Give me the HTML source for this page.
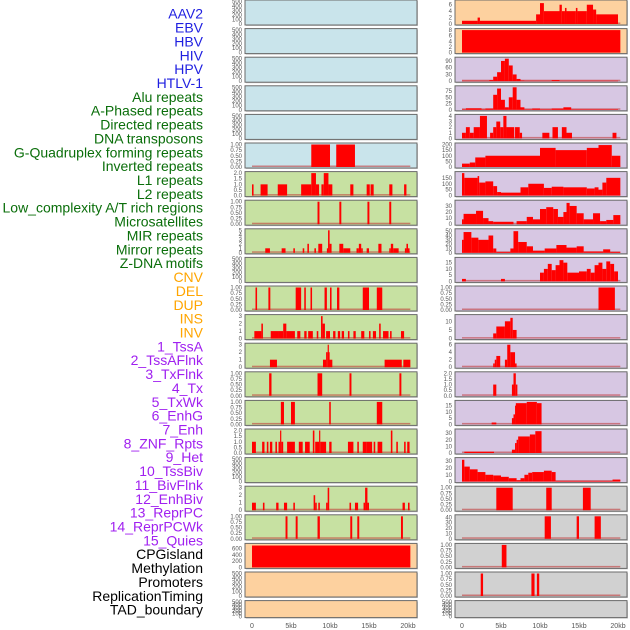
<!DOCTYPE html>
<html><head><meta charset="utf-8">
<style>
html,body{margin:0;padding:0;background:#fff;}
svg{display:block;font-family:"Liberation Sans",sans-serif;}
</style></head>
<body>
<svg id="chart" width="630" height="630" viewBox="0 0 630 630" xmlns="http://www.w3.org/2000/svg"></svg>
<script>
// ---- data ----
const labels = ["AAV2","EBV","HBV","HIV","HPV","HTLV-1","Alu repeats","A-Phased repeats","Directed repeats","DNA transposons","G-Quadruplex forming repeats","Inverted repeats","L1 repeats","L2 repeats","Low_complexity A/T rich regions","Microsatellites","MIR repeats","Mirror repeats","Z-DNA motifs","CNV","DEL","DUP","INS","INV","1_TssA","2_TssAFlnk","3_TxFlnk","4_Tx","5_TxWk","6_EnhG","7_Enh","8_ZNF_Rpts","9_Het","10_TssBiv","11_BivFlnk","12_EnhBiv","13_ReprPC","14_ReprPCWk","15_Quies","CPGisland","Methylation","Promoters","ReplicationTiming","TAD_boundary"];
const labelGroups = [6,13,5,15,5];
const groupColors = ["#1f1fe0","#0a6e0a","#ffa500","#a020f0","#000000"];
const xTickValues = [0,5,10,15,20];
const xTickLabels = ["0","5kb","10kb","15kb","20kb"];

const T500=["0","100","200","300","400","500"], T1=["0.00","0.25","0.50","0.75","1.00"];
const leftTicks = [T500,T500,T500,T500,T500,T1,["0.0","0.5","1.0","1.5","2.0"],T1,["0","1","2","3","4","5"],T500,T1,["0","1","2","3"],["0","1","2","3"],T1,T1,["0.0","0.5","1.0","1.5","2.0"],T500,["0","1","2","3"],T1,["0","200","400","600"],T500,T500];
const rightTicks = [["0","2","4","6"],["0","2","4","6","8"],["0","30","60","90"],["0","25","50","75"],["0","1","2","3","4"],["0","50","100","150","200"],["0","50","100","150"],["0","10","20","30"],["0","10","20","30","40","50"],["0","5","10","15"],T1,["0","5","10"],["0","2","4","6"],["0.0","0.5","1.0","1.5","2.0"],["0","5","10","15"],["0","10","20","30"],["0","10","20","30"],T1,["0","10","20","30","40"],T1,T1,T500];
const leftMax = [500,500,500,500,500,1,2,1,5,500,1,3,3,1,1,2,500,3,1,720,500,500];
const rightMax = [7,8,100,90,4,200,190,37,52,18,1,13,6,2,18,34,33,1,42,1,1,500];

const leftSegs = [
 [],[],[],[],[],
 [[7.6,10,1],[10.8,13.2,1]],
 [[0,0.2,1],[1.1,2,1],[3.3,4.5,1],[6.3,7.6,1],[7.6,8.2,2],[8.2,8.6,1],[8.9,9.2,1],[9.2,9.8,2],[9.8,10.3,1],[12.6,13,1],[14.7,15.1,1],[15.2,15.6,1],[17.6,18,1],[19.5,19.8,1]],
 [[8.4,8.65,1],[11.2,11.45,1],[14.8,15.05,1],[17.6,17.85,1]],
 [[1.7,2.3,1],[3.8,4.3,1],[5.3,5.5,1],[6.5,6.7,1],[7.1,7.3,2],[8,8.2,1],[8.5,9,2],[9.6,9.75,1],[9.75,9.95,5],[9.95,10.2,2],[11.2,11.7,2],[11.7,12.6,1],[13.4,13.7,1],[13.7,14,2],[14,14.2,1],[14.7,15,1],[16.2,16.6,2],[17.6,17.8,1],[17.8,18.1,2],[18.1,18.8,1],[19.6,19.8,1],[19.8,20,2],[20,20.2,1]],
 [],
 [[0.45,0.65,1],[2.1,2.35,1],[5.6,6.3,1],[6.7,6.9,1],[7.5,7.7,1],[9.3,9.6,1],[10,10.2,1],[10.9,11.2,1],[14.2,15,1],[16,16.7,1]],
 [[0.3,1.2,1],[1.2,1.4,2],[2.4,3.4,1],[3.4,4,1],[4,4.4,2],[4.4,5.5,1],[5.8,6.2,1],[6.7,7,1],[7.2,7.8,1],[8.3,8.5,1],[8.85,9.05,3],[9.05,9.35,2],[9.5,10,1],[10.4,10.7,1],[11,11.3,1],[11.5,11.8,1],[12.3,12.5,1],[13,13.3,1],[14,14.4,1],[15,15.2,1],[15.5,15.9,1],[16.3,16.5,2],[16.8,17.5,1],[17.7,17.9,1],[19.1,19.5,1]],
 [[2.3,3.2,1],[9.1,9.5,1],[9.5,9.7,2],[9.7,9.8,3],[9.8,9.9,2],[9.9,10.3,1],[17,19.2,1],[19.4,20.3,1]],
 [[2.2,2.5,1],[8.4,9,1],[12.5,12.75,1],[18.9,19.15,1]],
 [[3.7,4.1,1],[5,5.5,1],[9.9,10.1,1],[16,16.7,1]],
 [[0,0.5,1],[1.3,1.6,1],[1.9,2.1,1],[2.3,2.6,1],[3,3.2,1],[3.4,3.6,1],[3.6,3.75,2],[3.75,4,1],[4.5,5.5,1],[6,6.5,1],[6.8,7.4,1],[7.8,8,2],[8.1,8.6,1],[8.6,8.75,2],[8.75,9.5,1],[9.9,10.2,1],[12.3,13,1],[13.5,13.7,1],[14.2,14.7,1],[14.7,15.4,1],[15.6,15.8,1],[16.1,16.7,1],[17.8,18,2],[18.5,18.7,1],[19.5,19.7,1],[19.9,20.2,1]],
 [],
 [[0,0.5,1],[1.4,1.6,1],[3.1,3.4,1],[4.1,4.5,1],[5.3,5.5,1],[7.9,8.1,2],[8.1,8.3,1],[8.5,8.7,1],[9.5,9.7,1],[9.7,9.9,3],[12.5,12.7,1],[13.2,13.6,1],[14.3,14.5,1],[14.5,14.8,3],[14.8,15,1],[19.3,19.6,1],[20,20.2,1]],
 [[4.3,4.55,1],[5.6,5.85,1],[8.4,8.7,1],[12.6,12.85,1],[13.5,13.75,1],[19.1,19.35,1]],
 [[0,20.3,700]],
 [],[]
];
const rightSegs = [
 [[0,2,1],[2,2.3,2],[2.3,9.5,1],[9.5,10,3],[10,10.5,6.5],[10.5,12.5,4],[12.5,12.8,6],[12.8,13.2,4],[13.2,13.4,5],[13.4,14.6,4],[14.6,14.8,5],[14.8,16,4],[16,16.8,6],[16.8,17.2,4.5],[17.2,20,3]],
 [[0,20.3,8]],
 [[0,3.5,2],[3.5,4,5],[4,4.5,20],[4.5,5,40],[5,5.5,90],[5.5,6,100],[6,6.5,70],[6.5,7,30],[7,7.5,10],[7.5,8,3],[8,11.5,2],[11.5,12.5,5],[12.5,20,2]],
 [[0,0.5,2],[0.5,2.5,6],[2.5,3,2],[3,4,5],[4,4.5,60],[4.5,5,85],[5,5.5,40],[5.5,6,10],[6,6.5,50],[6.5,7,90],[7,7.5,40],[7.5,8,10],[8,9,2],[9,10,5],[10,11.5,2],[11.5,13,5],[13,14,10],[14,20,2]],
 [[0,0.5,1],[0.5,1,2],[1,1.5,1],[1.5,2.3,2],[2.3,3.2,4],[3.6,4,1],[4,4.4,2],[4.4,4.9,3],[4.9,5.3,2],[5.3,5.7,4],[5.7,6.7,2],[6.8,7.4,2],[7.4,7.7,1],[10.3,11.2,1],[11.6,12.3,2],[12.8,13.4,2],[13.4,14.1,1],[19.3,19.8,1]],
 [[0,1,30],[1,1.7,40],[1.7,3,85],[3,10,100],[10,12,170],[12,16,150],[16,17.5,170],[17.5,19.2,195],[19.2,20.3,100]],
 [[0,0.3,190],[0.3,2,150],[2,2.2,165],[2.2,3,110],[3,4,120],[4,4.5,80],[4.5,5,30],[5,7.5,25],[7.5,8.5,70],[8.5,10.5,100],[10.5,11.5,65],[11.5,13,75],[13,16,70],[16,17,60],[17,17.5,70],[17.5,18,50],[18,18.5,110],[18.5,20.3,150]],
 [[0,0.2,8],[0.2,1.8,17],[1.8,2.7,22],[2.7,3.4,10],[3.4,4,5],[4,6.6,4],[7,8.3,5],[8.3,9.1,12],[9.1,10,8],[10,10.8,25],[10.8,11.7,28],[11.7,12.3,25],[12.3,13,12],[13,13.4,20],[13.4,13.8,35],[13.8,14.7,30],[14.7,15.6,18],[15.6,16.8,8],[16.8,17.7,18],[17.7,18.5,5],[18.5,19.4,7],[19.4,20.3,15]],
 [[0,0.2,30],[0.2,1.2,48],[1.2,2.1,35],[2.1,3.4,30],[3.4,4,40],[4,4.4,10],[4.4,6.2,2],[6.2,6.6,10],[6.6,7.2,50],[7.2,8.3,25],[8.3,9.1,15],[9.1,10.6,5],[10.6,12.1,10],[12.1,13.4,18],[13.4,14.7,12],[14.7,15.6,15],[15.6,18.1,3],[18.1,19,8],[19,20.3,2]],
 [[0,0.5,2],[5,5.5,2],[10,10.5,7],[10.5,11,10],[11,11.5,14],[11.5,12,9],[12,12.5,13],[12.5,13,17],[13,13.5,15],[13.5,15,7],[15,16,8],[16,16.5,10],[16.5,17,7],[17,17.5,13],[17.5,18,15],[18,18.5,10],[18.5,19,16],[19,19.5,14],[19.5,20,8]],
 [[17.5,19.6,1]],
 [[4,4.4,3],[4.4,5.5,7],[5.5,6.2,10],[6.2,6.5,12],[6.5,7,5]],
 [[4,4.2,1],[4.2,4.4,2],[4.4,4.9,3],[5.5,5.8,2],[5.8,6.2,6],[6.2,6.8,4],[6.8,7,1]],
 [[4,4.4,1],[6.4,6.6,1],[6.6,6.9,2],[6.9,7.1,1]],
 [[3.8,4.4,1.5],[6.4,6.6,5],[6.6,6.8,8],[6.8,6.9,15],[6.9,8.3,17],[8.3,9.6,18],[9.6,10.2,17]],
 [[0.3,4.1,2],[6.4,6.8,5],[6.8,7,15],[7,7.2,20],[7.2,8.7,25],[8.7,9.4,28],[9.4,10.2,33]],
 [[0,0.3,32],[0.3,1,22],[1,2,18],[2,3,14],[3,4,10],[4,5,9],[5,6,7],[6,7,5],[7,7.5,2],[7.5,8,5],[8,8.5,10],[8.5,9,13],[9,10.5,14],[10.5,11.5,16],[11.5,12,14],[12,19.3,1],[19.3,20.3,3]],
 [[4.4,6.5,1],[10.8,11.5,1],[15.5,16.5,1]],
 [[10.6,11.4,42],[14.7,15,42],[17,17.8,42]],
 [[5.1,5.7,1]],
 [[2.4,2.7,1],[8.9,9.3,1],[9.6,9.9,1]],
 []
];
const leftBg = ["#c9e4eb","#c9e4eb","#c9e4eb","#c9e4eb","#c9e4eb","#c9e4eb","#c7e1a2","#c7e1a2","#c7e1a2","#c7e1a2","#c7e1a2","#c7e1a2","#c7e1a2","#c7e1a2","#c7e1a2","#c7e1a2","#c7e1a2","#c7e1a2","#c7e1a2","#fdd19f","#fdd19f","#fdd19f"];
const rightBg = ["#fdd19f","#fdd19f","#d7c7e3","#d7c7e3","#d7c7e3","#d7c7e3","#d7c7e3","#d7c7e3","#d7c7e3","#d7c7e3","#d7c7e3","#d7c7e3","#d7c7e3","#d7c7e3","#d7c7e3","#d7c7e3","#d7c7e3","#d1d1d1","#d1d1d1","#d1d1d1","#d1d1d1","#d1d1d1"];

// ---- drawing ----
const NS="http://www.w3.org/2000/svg";
const svg=document.getElementById('chart');
function mk(tag,attrs,parent){const e=document.createElementNS(NS,tag);for(const k in attrs)e.setAttribute(k,attrs[k]);(parent||svg).appendChild(e);return e;}
const cols=[{x0:245,x1:417,zero:252},{x0:455,x1:627,zero:462}];
const pxPerKb=7.8;
function xScale(col,kb){return cols[col].zero+kb*pxPerKb;}
function rowTop(i){return i*28.6;}
function rowH(i){return i===21?17:25;}

// labels
let li=0;
labelGroups.forEach((n,g)=>{for(let k=0;k<n;k++){
  const t=mk('text',{x:203,y:15+li*13.86,'text-anchor':'end','dominant-baseline':'middle','font-size':'14',fill:groupColors[g]});
  
  
  t.textContent=labels[li];li++;}});

function drawPanel(col,row,ticks,ymax,segs,bg){
  const g=mk('g',{});
  
  
  const top=rowTop(row),h=rowH(row),bot=top+h-1,ph=h-2.5;
  const c=cols[col];
  mk('rect',{x:c.x0+1,y:top+1,width:c.x1-c.x0,height:h,fill:'#999','fill-opacity':0.5},g);
  mk('rect',{x:c.x0,y:top,width:c.x1-c.x0,height:h,fill:bg,stroke:'#6a6a6a','stroke-width':1},g);
  const ys=v=>bot-(v/ymax)*ph;
  if(segs.length){
    const b=mk('rect',{x:xScale(col,0),y:bot-1.5,width:20.3*pxPerKb,height:1.5,fill:'#c03030','fill-opacity':0.55},g);
    
    
  }
  segs.forEach(s=>{
    const x=xScale(col,s[0]),w=Math.max(1.2,xScale(col,s[1])-x),y=ys(s[2]);
    const r=mk('rect',{x:x,y:y,width:w,height:bot-y,fill:'#ff0000'},g);
    
    
  });
  const tmax=parseFloat(ticks[ticks.length-1]);
  ticks.forEach(t=>{
    const v=parseFloat(t);
    const tx=mk('text',{x:c.x0-3,y:ys(v)+2,'text-anchor':'end','font-size':'6',fill:'#555'},g);
    
    
    tx.textContent=t;
  });
}
for(let r=0;r<22;r++){
  drawPanel(0,r,leftTicks[r],leftMax[r],leftSegs[r],leftBg[r]);
  drawPanel(1,r,rightTicks[r],rightMax[r],rightSegs[r],rightBg[r]);
}
[0,1].forEach(col=>{xTickValues.forEach((v,i)=>{
  const t=mk('text',{x:xScale(col,v),y:628,'text-anchor':'middle','font-size':'7',fill:'#555'});
  
  
  t.textContent=xTickLabels[i];
});});
</script>
</body></html>
